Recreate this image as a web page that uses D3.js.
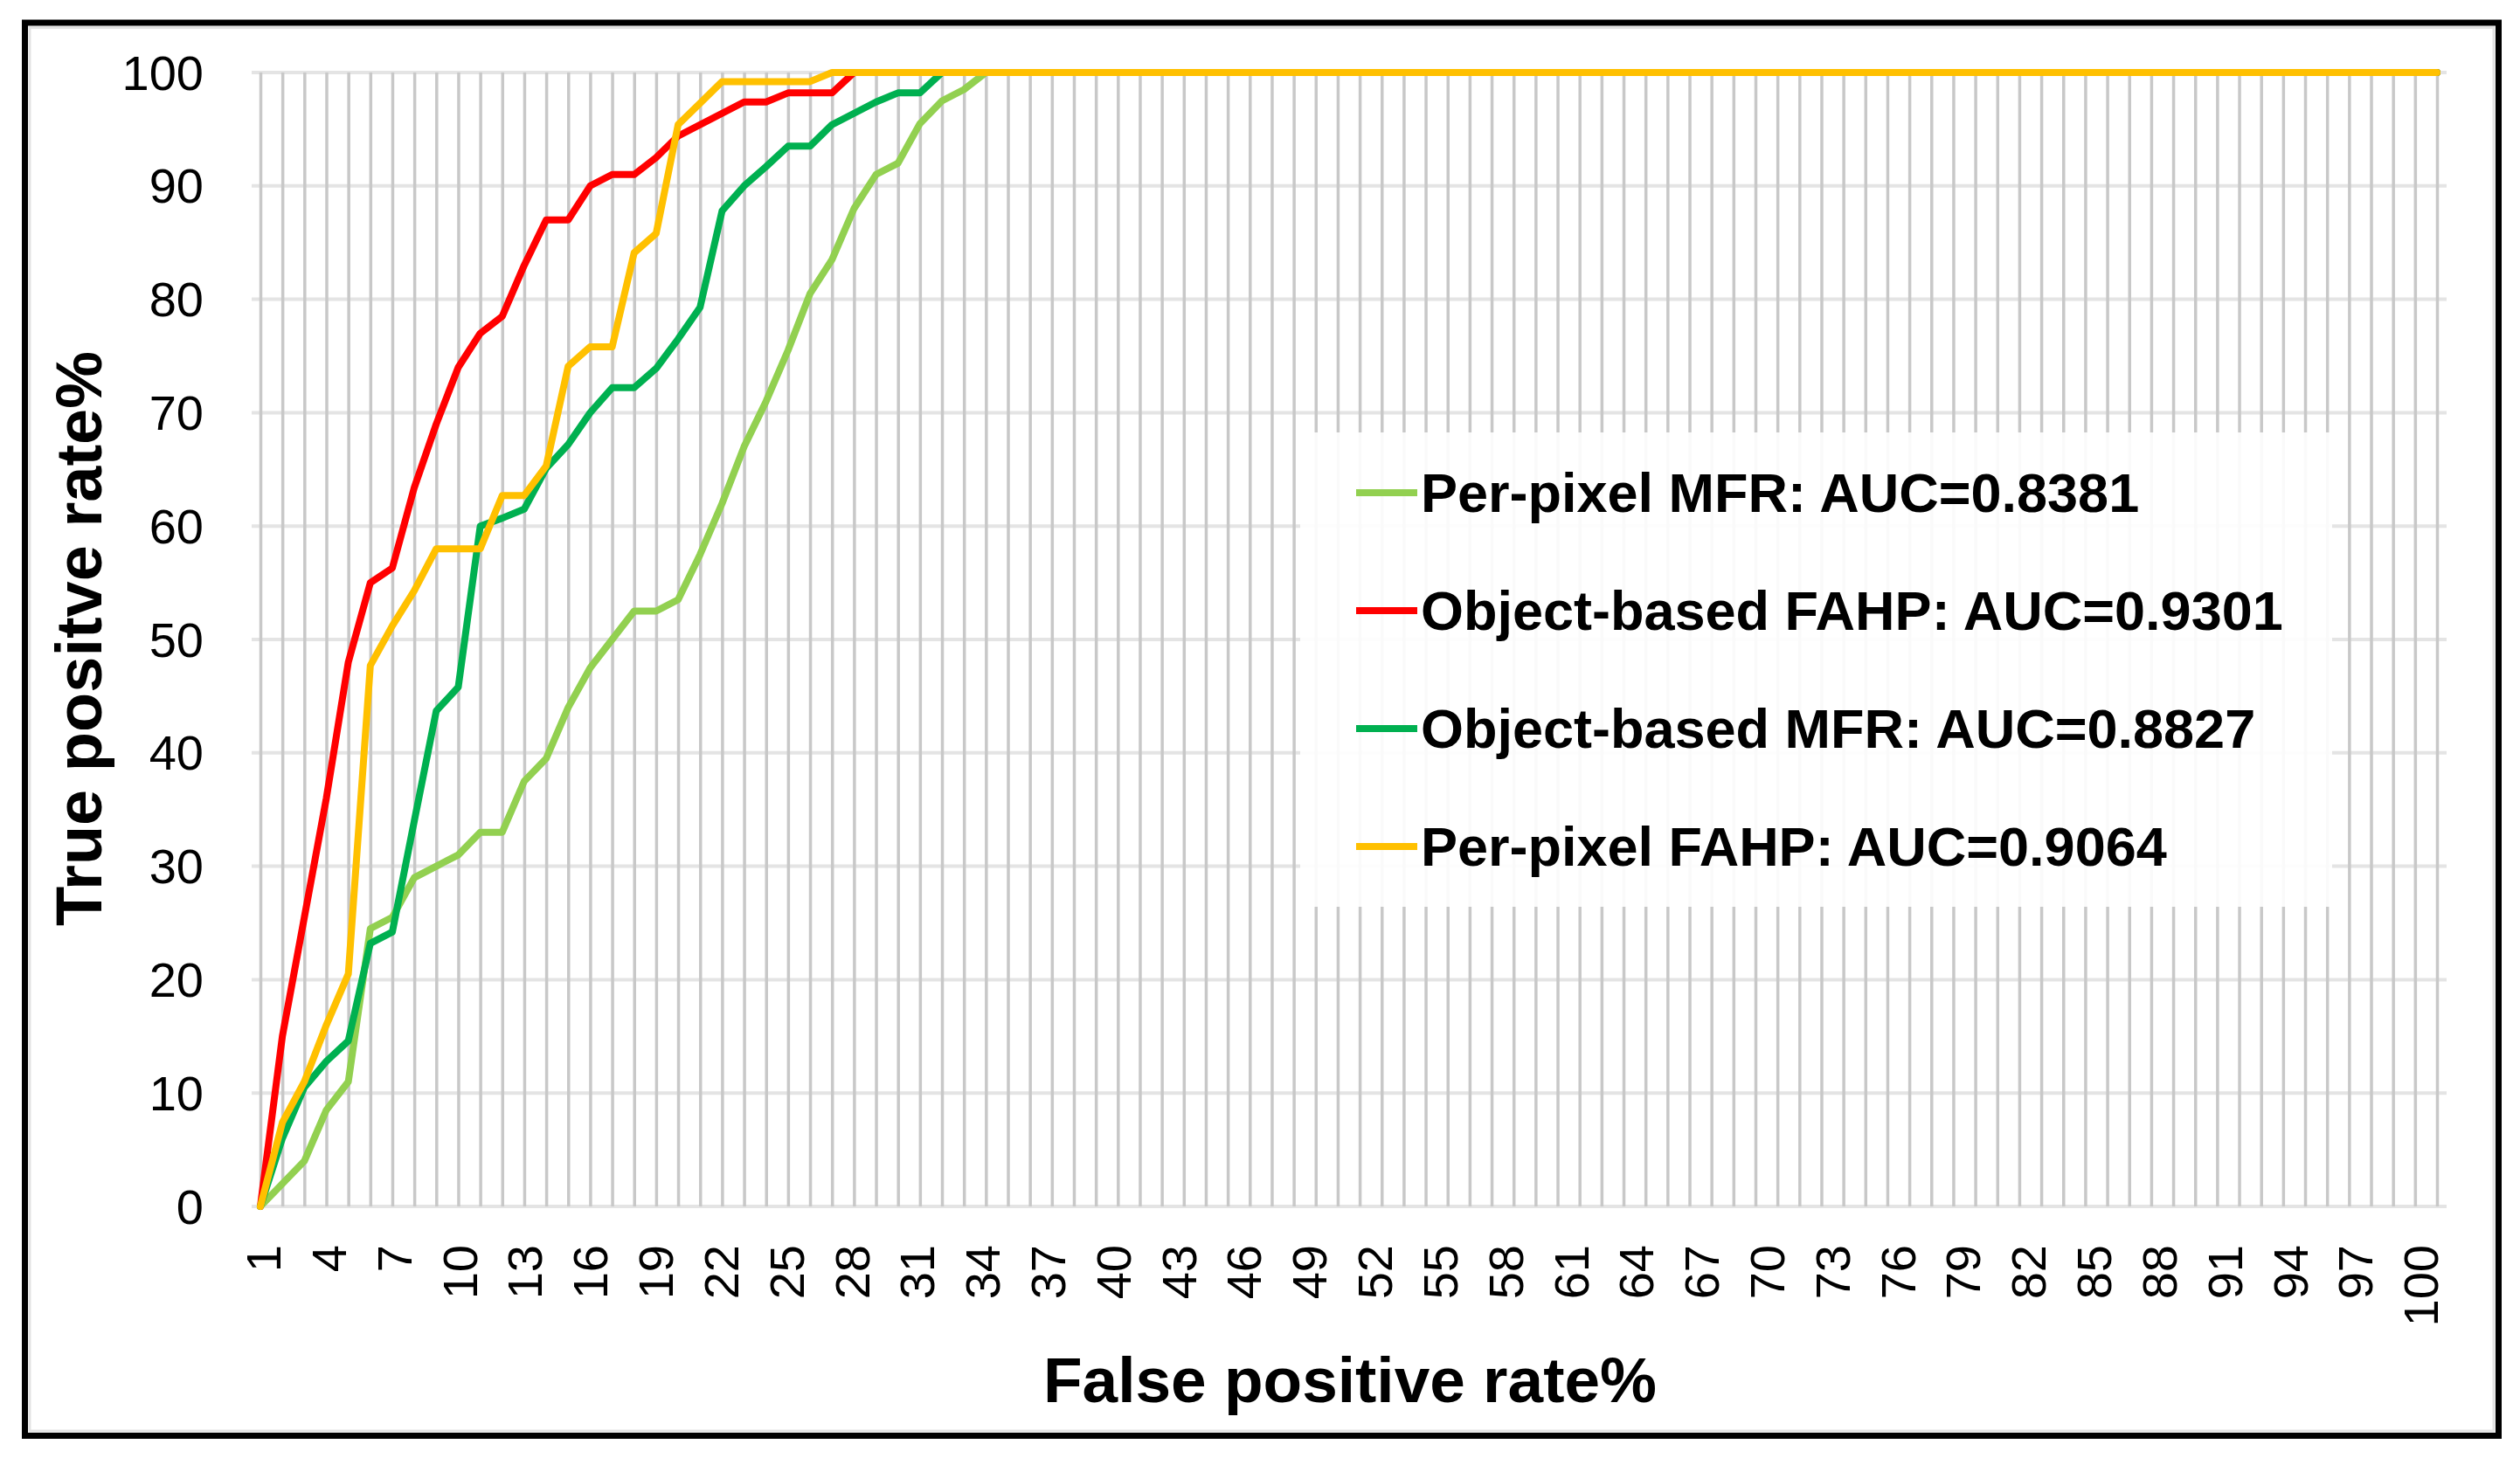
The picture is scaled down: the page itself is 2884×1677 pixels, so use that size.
<!DOCTYPE html>
<html>
<head>
<meta charset="utf-8">
<script src="https://cdn.jsdelivr.net/npm/d3@7"></script>
<style>
  body { margin: 0; background: #fff; }
  text { font-family: "Liberation Sans", Arial, sans-serif; fill: #000; }
</style>
</head>
<body>
<svg id="chart" width="2884" height="1677"></svg>
<script>
// x categories (false positive rate %)
const categories = [
  1, 2, 3, 4, 5, 6, 7, 8, 9, 10,
  11, 12, 13, 14, 15, 16, 17, 18, 19, 20,
  21, 22, 23, 24, 25, 26, 27, 28, 29, 30,
  31, 32, 33, 34, 35, 36, 37, 38, 39, 40,
  41, 42, 43, 44, 45, 46, 47, 48, 49, 50,
  51, 52, 53, 54, 55, 56, 57, 58, 59, 60,
  61, 62, 63, 64, 65, 66, 67, 68, 69, 70,
  71, 72, 73, 74, 75, 76, 77, 78, 79, 80,
  81, 82, 83, 84, 85, 86, 87, 88, 89, 90,
  91, 92, 93, 94, 95, 96, 97, 98, 99, 100
];
const xTickLabels = [1, 4, 7, 10, 13, 16, 19, 22, 25, 28, 31, 34, 37, 40, 43, 46, 49,
  52, 55, 58, 61, 64, 67, 70, 73, 76, 79, 82, 85, 88, 91, 94, 97, 100];
const yTickLabels = [0, 10, 20, 30, 40, 50, 60, 70, 80, 90, 100];

// true positive rate % per category
const perPixelMFR = [
  0, 2, 4, 8.5, 11, 24.5, 25.5, 29, 30, 31,
  33, 33, 37.5, 39.5, 44, 47.5, 50, 52.5, 52.5, 53.5,
  57.5, 62, 67, 71, 75.5, 80.5, 83.5, 88, 91, 92,
  95.5, 97.5, 98.5, 100, 100, 100, 100, 100, 100, 100,
  100, 100, 100, 100, 100, 100, 100, 100, 100, 100,
  100, 100, 100, 100, 100, 100, 100, 100, 100, 100,
  100, 100, 100, 100, 100, 100, 100, 100, 100, 100,
  100, 100, 100, 100, 100, 100, 100, 100, 100, 100,
  100, 100, 100, 100, 100, 100, 100, 100, 100, 100,
  100, 100, 100, 100, 100, 100, 100, 100, 100, 100
];
const objectFAHP = [
  0, 15, 25.5, 36, 48, 55, 56.3, 63.4, 69, 74,
  77, 78.5, 83, 87, 87, 90, 91, 91, 92.5, 94.4,
  95.4, 96.4, 97.4, 97.4, 98.2, 98.2, 98.2, 100, 100, 100,
  100, 100, 100, 100, 100, 100, 100, 100, 100, 100,
  100, 100, 100, 100, 100, 100, 100, 100, 100, 100,
  100, 100, 100, 100, 100, 100, 100, 100, 100, 100,
  100, 100, 100, 100, 100, 100, 100, 100, 100, 100,
  100, 100, 100, 100, 100, 100, 100, 100, 100, 100,
  100, 100, 100, 100, 100, 100, 100, 100, 100, 100,
  100, 100, 100, 100, 100, 100, 100, 100, 100, 100
];
const objectMFR = [
  0, 6, 10.5, 12.8, 14.6, 23.2, 24.2, 34, 43.7, 45.8,
  60, 60.7, 61.5, 65.1, 67.2, 70, 72.2, 72.2, 73.9, 76.5,
  79.3, 87.8, 90, 91.7, 93.5, 93.5, 95.4, 96.4, 97.4, 98.2,
  98.2, 100, 100, 100, 100, 100, 100, 100, 100, 100,
  100, 100, 100, 100, 100, 100, 100, 100, 100, 100,
  100, 100, 100, 100, 100, 100, 100, 100, 100, 100,
  100, 100, 100, 100, 100, 100, 100, 100, 100, 100,
  100, 100, 100, 100, 100, 100, 100, 100, 100, 100,
  100, 100, 100, 100, 100, 100, 100, 100, 100, 100,
  100, 100, 100, 100, 100, 100, 100, 100, 100, 100
];
const perPixelFAHP = [
  0, 7.4, 11, 16, 20.5, 47.7, 51.2, 54.3, 58, 58,
  58, 62.7, 62.7, 65.3, 74.1, 75.8, 75.8, 84.1, 85.8, 95.4,
  97.3, 99.2, 99.2, 99.2, 99.2, 99.2, 100, 100, 100, 100,
  100, 100, 100, 100, 100, 100, 100, 100, 100, 100,
  100, 100, 100, 100, 100, 100, 100, 100, 100, 100,
  100, 100, 100, 100, 100, 100, 100, 100, 100, 100,
  100, 100, 100, 100, 100, 100, 100, 100, 100, 100,
  100, 100, 100, 100, 100, 100, 100, 100, 100, 100,
  100, 100, 100, 100, 100, 100, 100, 100, 100, 100,
  100, 100, 100, 100, 100, 100, 100, 100, 100, 100
];

const seriesNames = ["Per-pixel MFR: AUC=0.8381", "Object-based FAHP: AUC=0.9301",
  "Object-based MFR: AUC=0.8827", "Per-pixel FAHP: AUC=0.9064"];
const seriesColors = ["#92d050", "#ff0000", "#00b050", "#ffc000"];
const seriesValues = [perPixelMFR, objectFAHP, objectMFR, perPixelFAHP];

const svg = d3.select("#chart");

// plot area
const plot = { left: 288, right: 2800, top: 83, bottom: 1381 };
const x = d3.scalePoint().domain(categories).range([298, 2789]);
// tick labels drift slightly left of the gridlines, as in the source chart
const xLabel = d3.scalePoint().domain(categories).range([301, 2770]);
const y = d3.scaleLinear().domain([0, 100]).range([plot.bottom, plot.top]);

// outer frame
svg.append("rect")
  .attr("x", 28.5).attr("y", 26)
  .attr("width", 2831).attr("height", 1617.5)
  .attr("fill", "#fff").attr("stroke", "#000").attr("stroke-width", 7);
svg.append("rect")
  .attr("x", 34).attr("y", 31.5)
  .attr("width", 2820).attr("height", 1606.5)
  .attr("fill", "none").attr("stroke", "#e3e3e3").attr("stroke-width", 3);

// horizontal gridlines
svg.append("g").selectAll("line")
  .data(yTickLabels)
  .enter().append("line")
  .attr("x1", plot.left).attr("x2", plot.right)
  .attr("y1", d => y(d)).attr("y2", d => y(d))
  .attr("stroke", "#e4e4e4").attr("stroke-width", 4);

// vertical gridlines, one per category
svg.append("g")
  .attr("transform", `translate(0, ${plot.bottom})`)
  .call(d3.axisBottom(x).tickSize(-(plot.bottom - plot.top)).tickFormat(""))
  .call(g => g.select(".domain").remove())
  .call(g => g.selectAll(".tick line").attr("stroke", "#c8c8c8").attr("stroke-width", 3.5));

// y tick labels
svg.append("g").selectAll("text")
  .data(yTickLabels)
  .enter().append("text")
  .attr("x", 233).attr("y", d => y(d))
  .attr("dy", "0.35em")
  .attr("text-anchor", "end")
  .attr("font-size", "56px")
  .text(d => d);

// x tick labels, rotated
svg.append("g").selectAll("text")
  .data(xTickLabels)
  .enter().append("text")
  .attr("transform", d => `translate(${xLabel(d)}, ${plot.bottom + 44}) rotate(-90)`)
  .attr("dy", "0.36em")
  .attr("text-anchor", "end")
  .attr("font-size", "56px")
  .text(d => d);

// lines
const line = d3.line()
  .x((d, i) => x(categories[i]))
  .y(d => y(d));

seriesValues.forEach((vals, k) => {
  svg.append("path")
    .datum(vals)
    .attr("fill", "none")
    .attr("stroke", seriesColors[k])
    .attr("stroke-width", 8)
    .attr("stroke-linejoin", "round")
    .attr("stroke-linecap", "round")
    .attr("d", line);
});

// legend box sits over the grid
const legend = svg.append("g");
legend.append("rect")
  .attr("x", 1488).attr("y", 495)
  .attr("width", 1181).attr("height", 543)
  .attr("fill", "#fff").attr("fill-opacity", 0.9);

seriesNames.forEach((name, i) => {
  const base = 586 + i * 135;
  legend.append("line")
    .attr("x1", 1552).attr("x2", 1622)
    .attr("y1", base - 22).attr("y2", base - 22)
    .attr("stroke", seriesColors[i]).attr("stroke-width", 8);
  legend.append("text")
    .attr("x", 1626).attr("y", base)
    .attr("font-size", "63px").attr("font-weight", "bold")
    .text(name);
});

// axis titles
svg.append("text")
  .attr("x", 1545).attr("y", 1605)
  .attr("text-anchor", "middle")
  .attr("font-size", "73px").attr("font-weight", "bold")
  .text("False positive rate%");

svg.append("text")
  .attr("transform", "translate(116, 731) rotate(-90)")
  .attr("text-anchor", "middle")
  .attr("font-size", "74px").attr("font-weight", "bold")
  .text("True positve rate%");
</script>
</body>
</html>
